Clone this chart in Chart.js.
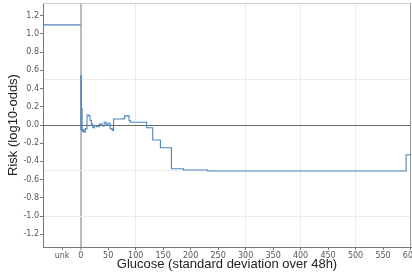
<!DOCTYPE html>
<html>
<head>
<meta charset="utf-8">
<script src="https://cdn.jsdelivr.net/npm/chart.js@4"></script>
<style>
html, body { margin: 0; padding: 0; background: #fff; overflow: hidden; }
</style>
</head>
<body>
<canvas id="riskChart" width="412" height="277"></canvas>
<script>
const lineColor = '#4f84bb';
const labelColor = '#555';
const axisColor = '#777';
const lightGrid = '#ebebeb';

// risk for an unknown glucose value, and the step curve over glucose SD
const unknownRisk = 1.1;
const glucoseSd = [0, 0.3, 1.2, 2.5, 3.6, 6, 8.5, 11.5, 14.6, 17, 19.5, 22, 25, 29, 34, 39, 42.7, 46.3, 49.4, 53.7,
    57.3, 59.8, 76.9, 80, 88, 90.3, 120, 131, 145, 165, 187, 231, 592, 605];
const riskValues = [-0.05, 0.54, 0.18, -0.07, -0.05, -0.08, -0.04, 0.11, 0.10, 0.05, 0.01, -0.03, -0.01, -0.02, 0.01, -0.01, 0.03, 0.00, 0.02, -0.04,
    -0.06, 0.066, 0.07, 0.10, 0.05, 0.03, -0.03, -0.165, -0.25, -0.48, -0.495, -0.505, -0.326, -0.326];

const unkPosition = -34;
const xTicks = [unkPosition, 0, 50, 100, 150, 200, 250, 300, 350, 400, 450, 500, 550, 600];
const yTicks = [-1.2, -1.0, -0.8, -0.6, -0.4, -0.2, 0.0, 0.2, 0.4, 0.6, 0.8, 1.0, 1.2];
const xGridValues = [100, 300, 400, 500];
const yGridValues = [-1.0, -0.5, 0.5];
const xMin = -68.6, xMax = 600.9;
const yMin = -1.34, yMax = 1.34;

// top and right border of the plot
const framePlugin = {
    id: 'frame',
    beforeDatasetsDraw(chart) {
        const { ctx, chartArea: a } = chart;
        ctx.save();
        ctx.lineWidth = 1;
        ctx.strokeStyle = '#ccc';
        ctx.beginPath();
        ctx.moveTo(a.left, a.top + 0.5);
        ctx.lineTo(a.right, a.top + 0.5);
        ctx.stroke();
        ctx.strokeStyle = '#999';
        ctx.beginPath();
        ctx.moveTo(a.right - 0.5, a.top);
        ctx.lineTo(a.right - 0.5, a.bottom);
        ctx.stroke();
        ctx.restore();
    }
};

const tickFont = { family: 'DejaVu Sans', size: 8 };
const titleFont = { family: 'Liberation Sans', size: 13 };

const ctx = document.getElementById('riskChart').getContext('2d');
new Chart(ctx, {
    type: 'line',
    data: {
        datasets: [{
            data: [{ x: xMin, y: unknownRisk }, { x: 0, y: unknownRisk }],
            borderColor: lineColor,
            borderWidth: 1.1,
            pointRadius: 0
        }, {
            data: glucoseSd.map((x, i) => ({ x: x, y: riskValues[i] })),
            borderColor: lineColor,
            borderWidth: 1.1,
            pointRadius: 0,
            stepped: true
        }]
    },
    options: {
        responsive: false,
        animation: false,
        layout: { padding: { top: 3, right: 1, bottom: 0, left: 0 } },
        plugins: {
            legend: { display: false },
            tooltip: { enabled: false }
        },
        scales: {
            x: {
                type: 'linear',
                min: xMin,
                max: xMax,
                afterBuildTicks: s => { s.ticks = xTicks.map(v => ({ value: v })); },
                afterFit: s => { s.height = 30; s.paddingLeft = 0; s.paddingRight = 0; },
                ticks: {
                    autoSkip: false,
                    maxRotation: 0,
                    padding: 1,
                    color: labelColor,
                    font: tickFont,
                    callback: v => v === unkPosition ? 'unk' : String(v)
                },
                grid: {
                    color: c => c.tick.value === 0 ? '#bbb' : (xGridValues.includes(c.tick.value) ? lightGrid : 'rgba(0,0,0,0)'),
                    lineWidth: c => c.tick.value === 0 ? 2 : 1,
                    tickColor: axisColor,
                    tickWidth: 1,
                    tickLength: 3
                },
                border: { color: axisColor, width: 1 },
                title: {
                    display: true,
                    text: 'Glucose (standard deviation over 48h)',
                    color: '#222',
                    font: titleFont,
                    padding: { top: 0, bottom: 5 }
                }
            },
            y: {
                min: yMin,
                max: yMax,
                afterBuildTicks: s => {
                    s.ticks = yTicks.concat([-0.5, 0.5]).sort((a, b) => a - b).map(v => ({ value: v }));
                },
                afterFit: s => { s.width = 43; s.paddingTop = 0; s.paddingBottom = 0; },
                ticks: {
                    padding: 1,
                    color: labelColor,
                    font: tickFont,
                    callback: v => yTicks.includes(v) ? v.toFixed(1) : ''
                },
                grid: {
                    color: c => c.tick.value === 0 ? '#666' : (yGridValues.includes(c.tick.value) ? lightGrid : 'rgba(0,0,0,0)'),
                    tickColor: c => yTicks.includes(c.tick.value) ? axisColor : 'rgba(0,0,0,0)',
                    tickWidth: 1,
                    tickLength: 3
                },
                border: { color: axisColor, width: 1 },
                title: {
                    display: true,
                    text: 'Risk (log10-odds)',
                    color: '#222',
                    font: titleFont,
                    padding: { top: 6, bottom: 0 }
                }
            }
        }
    },
    plugins: [framePlugin]
});
</script>
</body>
</html>
